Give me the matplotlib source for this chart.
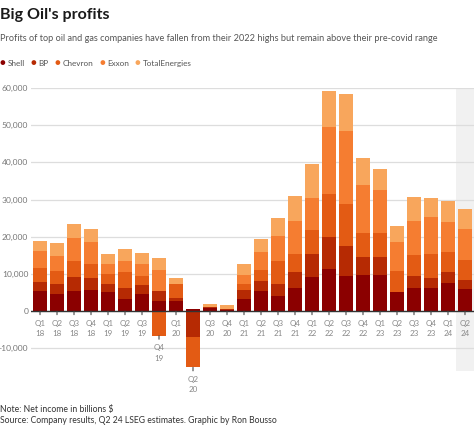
import matplotlib.pyplot as plt
from matplotlib.transforms import offset_copy
import numpy as np

plt.rcParams['font.family'] = ['Lato', 'DejaVu Sans']

labels = ["Q1\n18", "Q2\n18", "Q3\n18", "Q4\n18",
          "Q1\n19", "Q2\n19", "Q3\n19", "Q4\n19",
          "Q1\n20", "Q2\n20", "Q3\n20", "Q4\n20",
          "Q1\n21", "Q2\n21", "Q3\n21", "Q4\n21",
          "Q1\n22", "Q2\n22", "Q3\n22", "Q4\n22",
          "Q1\n23", "Q2\n23", "Q3\n23", "Q4\n23",
          "Q1\n24", "Q2\n24"]

# net income, $ millions
shell = [5400, 4600, 5400, 5600, 5200, 3400, 4700, 2860, 2860, 550, 900, 400,
         3200, 5400, 4000, 6200, 9100, 11400, 9400, 9800, 9600, 5100, 6100, 6250, 7700, 5900]
bp = [2400, 2800, 3800, 3400, 2200, 2800, 2300, 2580, 700, -6900, 100, 100,
      2600, 2800, 3300, 4200, 6300, 8500, 8100, 4800, 4900, 0, 3400, 2600, 2700, 2400]
chevron = [3700, 3300, 4200, 3800, 2700, 4300, 2500, -6600, 3700, -8200, 200, 0,
           1400, 3000, 6100, 5000, 6300, 11500, 11200, 6400, 6600, 5600, 5700, 6500, 5400, 5400]
exxon = [4600, 4100, 6300, 5900, 2500, 3000, 3200, 5660, 0, 0, 0, 0,
         2600, 4700, 6700, 8800, 8800, 18000, 19700, 12800, 11500, 7900, 9000, 10000, 8100, 8400]
total = [2900, 3500, 3800, 3300, 2800, 3100, 2900, 3150, 1700, 0, 600, 1100,
         3000, 3400, 4900, 6900, 9000, 9800, 9900, 7500, 5600, 4200, 6400, 5000, 5800, 5400]

companies = ["Shell", "BP", "Chevron", "Exxon", "TotalEnergies"]
colors = ["#8b0000", "#b62a03", "#e35b14", "#f57d31", "#f8a65c"]

fig = plt.figure(figsize=(4.74, 4.28), dpi=100)
ax = fig.add_axes([31 / 474, 1 - 370.7 / 428, 443 / 474, 282.7 / 428])

x = np.arange(len(labels))
pos_base = np.zeros(len(x))
neg_base = np.zeros(len(x))
for vals, col in zip([shell, bp, chevron, exxon, total], colors):
    v = np.array(vals, dtype=float)
    base = np.where(v >= 0, pos_base, neg_base)
    ax.bar(x, v, 0.8, bottom=base, color=col, linewidth=0, zorder=2)
    pos_base += np.where(v > 0, v, 0)
    neg_base += np.where(v < 0, v, 0)

# estimates column
ax.axvspan(x[-1] - 0.5, x[-1] + 0.6, color="#f1f1f1", zorder=0, lw=0)

ax.set_xlim(-0.53, x[-1] + 0.53)
ax.set_ylim(-16000, 60000)
ax.set_yticks(range(-10000, 60001, 10000))
ax.set_yticklabels([f"{t:,}" for t in range(-10000, 60001, 10000)])
ax.tick_params(axis="y", length=0, pad=2, labelsize=6.1, labelcolor="#777777")
ax.set_xticks([])
ax.yaxis.grid(True, color="#dddddd", lw=0.9, zorder=1)
ax.set_axisbelow(True)
for s in ax.spines.values():
    s.set_visible(False)
ax.axhline(0, color="#333333", lw=1, zorder=3)

# ticks and labels sit under the lowest point of each bar
lab_tr = offset_copy(ax.transData, fig=fig, y=-6, units="points")
for xi, nb, lab in zip(x, neg_base, labels):
    ax.annotate("", xy=(xi, nb), xytext=(0, -2.5), textcoords="offset points",
                arrowprops=dict(arrowstyle="-", color="#444444", lw=0.8,
                                shrinkA=0, shrinkB=0), annotation_clip=False)
    ax.text(xi, nb, lab, transform=lab_tr, ha="center", va="top",
            fontsize=5.8, color="#888888", linespacing=1.6, clip_on=False)

fig.text(0.0, 0.965, "Big Oil's profits", fontsize=11.5, fontweight="bold",
         color="#1a1a1a", va="center", ha="left")
fig.text(0.0, 0.911, "Profits of top oil and gas companies have fallen from their 2022 highs "
         "but remain above their pre-covid range", fontsize=6.55, color="#555555",
         va="center", ha="left")

# legend row
lx = 0.0
for name, col in zip(companies, colors):
    fig.text(lx, 0.852, "\u25cf", fontsize=7, color=col, va="center", ha="left")
    t = fig.text(lx + 0.016, 0.852, name, fontsize=5.9, color="#555555", va="center", ha="left")
    fig.canvas.draw()
    bb = t.get_window_extent()
    lx = bb.x1 / fig.bbox.width + 0.013

fig.text(0.0, 0.044, "Note: Net income in billions $", fontsize=6.2, color="#333333",
         va="center", ha="left")
fig.text(0.0, 0.017, "Source: Company results, Q2 24 LSEG estimates. Graphic by Ron Bousso",
         fontsize=6.2, color="#333333", va="center", ha="left")

fig.savefig("out.png", dpi=100)
